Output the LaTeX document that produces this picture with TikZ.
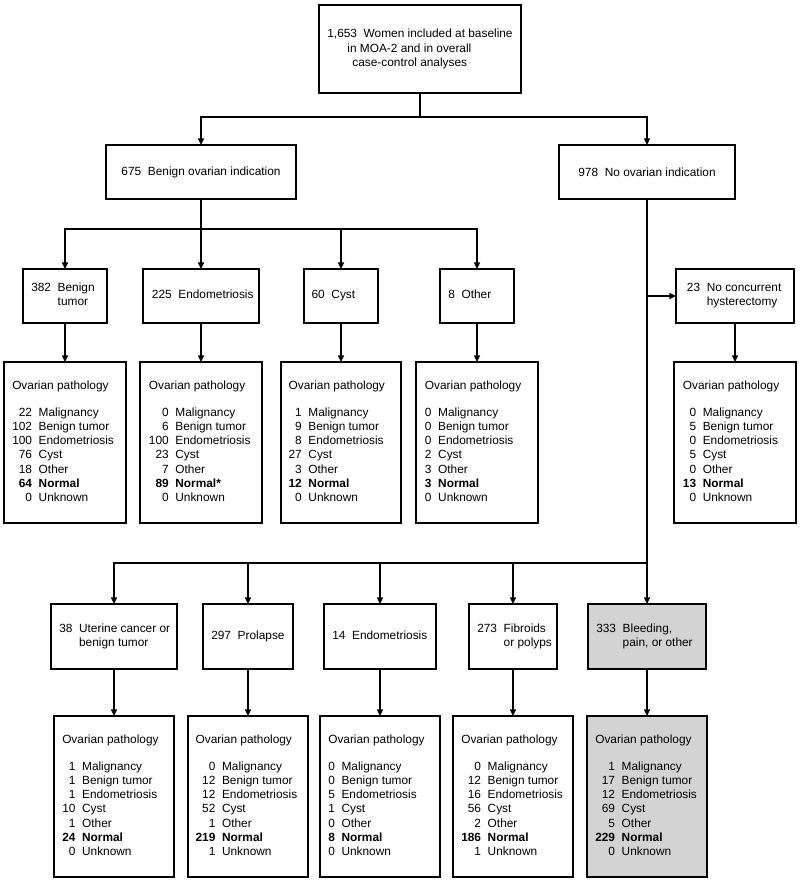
\documentclass[tikz,border=0pt]{standalone}
\usepackage{fontspec}
\setmainfont{Liberation Sans}
\usetikzlibrary{arrows.meta}
\definecolor{shade}{RGB}{211,211,211}

% optional style, name, x1, y1, x2, y2 (pixel coordinates)
\newcommand\mkbox[6][]{%
  \node[boxst,#1,minimum width={(#5-#3)*0.75pt},minimum height={(#6-#4)*0.75pt}]
    (#2) at ({(#3+#5)/2},{(#4+#6)/2}) {};}
\newcommand\lab[2]{\begin{tabular}{@{}l@{\hspace{5pt}}l@{}}#1&#2\end{tabular}}
\newcommand\pth[8]{\begin{tabular}{@{}r@{\hspace{5pt}}l@{}}
  \multicolumn{2}{@{}l@{}}{Ovarian pathology}\\[9.6pt]
  #1&Malignancy\\ #2&Benign tumor\\ #3&Endometriosis\\ #4&Cyst\\ #5&Other\\
  \textbf{#6}&\textbf{Normal#7}\\ #8&Unknown\end{tabular}}

\begin{document}
\begin{tikzpicture}[x=0.75pt,y=-0.75pt,
  ln/.style={line width=1pt},
  arr/.style={ln,-{Triangle[length=5pt,width=4.5pt]}},
  boxst/.style={draw,line width=1pt,inner sep=0pt,outer sep=0pt},
  gbox/.style={fill=shade},
  txt/.style={inner sep=0pt,font=\fontsize{8.9}{10.65}\selectfont}]
\useasboundingbox (0,0) rectangle (800,881);

% ---- boxes ----
\mkbox{top}{319}{5}{521}{93}
\mkbox{ben}{106}{145}{296}{199}
\mkbox{noov}{559}{145}{735}{199}

\mkbox{bt}{23}{269}{107}{323}
\mkbox{enA}{143}{269}{259}{323}
\mkbox{cy}{304}{269}{378}{323}
\mkbox{ot}{440}{269}{514}{323}
\mkbox{nc}{676}{269}{794}{323}

\mkbox{paA}{4}{362}{126}{523}
\mkbox{paB}{140}{362}{262}{523}
\mkbox{paC}{281}{362}{401}{523}
\mkbox{paD}{416}{362}{538}{523}
\mkbox{paE}{674}{362}{796}{523}

\mkbox{ut}{51}{604}{177}{669}
\mkbox{pr}{203}{604}{293}{669}
\mkbox{enB}{324}{604}{436}{669}
\mkbox{fi}{469}{604}{557}{669}
\mkbox[gbox]{bl}{588}{604}{706}{669}

\mkbox{pbA}{54}{716}{174}{877}
\mkbox{pbB}{188}{716}{308}{877}
\mkbox{pbC}{320}{716}{440}{877}
\mkbox{pbD}{453}{716}{573}{877}
\mkbox[gbox]{pbE}{587}{716}{707}{877}

% ---- texts ----
\node[txt,align=left] (top-t) at (top.center) {1,653\hspace{5pt}Women included at baseline\\
  \hspace*{15pt}in MOA-2 and in overall\\ \hspace*{18.75pt}case-control analyses};
\node[txt] (ben-t) at (ben.center) {675\hspace{5pt}Benign ovarian indication};
\node[txt] (noov-t) at (noov.center) {978\hspace{5pt}No ovarian indication};

\node[txt,anchor=west] (bt-t) at ([xshift=6pt]bt.west) {\lab{382}{Benign\\&tumor}};
\node[txt,anchor=west] (enA-t) at ([xshift=6.5pt]enA.west) {\lab{225}{Endometriosis}};
\node[txt,anchor=west] (cy-t) at ([xshift=5.5pt]cy.west) {\lab{60}{Cyst}};
\node[txt,anchor=west] (ot-t) at ([xshift=6pt]ot.west) {\lab{8}{Other}};
\node[txt,anchor=west] (nc-t) at ([xshift=8pt]nc.west) {\lab{23}{No concurrent\\&hysterectomy}};

\node[txt,anchor=west] (paA-t) at ([xshift=6pt]paA.west) {\pth{22}{102}{100}{76}{18}{64}{}{0}};
\node[txt,anchor=west] (paB-t) at ([xshift=6.5pt]paB.west) {\pth{0}{6}{100}{23}{7}{89}{*}{0}};
\node[txt,anchor=west] (paC-t) at ([xshift=5.5pt]paC.west) {\pth{1}{9}{8}{27}{3}{12}{}{0}};
\node[txt,anchor=west] (paD-t) at ([xshift=6.5pt]paD.west) {\pth{0}{0}{0}{2}{3}{3}{}{0}};
\node[txt,anchor=west] (paE-t) at ([xshift=6.5pt]paE.west) {\pth{0}{5}{0}{5}{0}{13}{}{0}};

\node[txt,anchor=west] (ut-t) at ([xshift=6pt]ut.west) {\lab{38}{Uterine cancer or\\&benign tumor}};
\node[txt,anchor=west] (pr-t) at ([xshift=6pt]pr.west) {\lab{297}{Prolapse}};
\node[txt,anchor=west] (enB-t) at ([xshift=6pt]enB.west) {\lab{14}{Endometriosis}};
\node[txt,anchor=west] (fi-t) at ([xshift=6pt]fi.west) {\lab{273}{Fibroids\\&or polyps}};
\node[txt,anchor=west] (bl-t) at ([xshift=6pt]bl.west) {\lab{333}{Bleeding,\\&pain, or other}};

\node[txt,anchor=west] (pbA-t) at ([xshift=6pt]pbA.west) {\pth{1}{1}{1}{10}{1}{24}{}{0}};
\node[txt,anchor=west] (pbB-t) at ([xshift=5.5pt]pbB.west) {\pth{0}{12}{12}{52}{1}{219}{}{1}};
\node[txt,anchor=west] (pbC-t) at ([xshift=6pt]pbC.west) {\pth{0}{0}{5}{1}{0}{8}{}{0}};
\node[txt,anchor=west] (pbD-t) at ([xshift=6pt]pbD.west) {\pth{0}{12}{16}{56}{2}{186}{}{1}};
\node[txt,anchor=west] (pbE-t) at ([xshift=6pt]pbE.west) {\pth{1}{17}{12}{69}{5}{229}{}{0}};

% ---- connectors ----
\coordinate (j0) at (420,117);
\draw[ln] (top.south) -- (j0);
\draw[arr] (j0) -| (ben.north);
\draw[arr] (j0) -| (noov.north);

\coordinate (j1) at (201,229);
\draw[arr] (ben.south) -- (enA.north);
\draw[arr] (j1) -| (bt.north);
\draw[arr] (j1) -| (cy.north);
\draw[arr] (j1) -| (ot.north);

\draw[arr] (bt.south) -- (bt.south |- paA.north);
\draw[arr] (enA.south) -- (enA.south |- paB.north);
\draw[arr] (cy.south) -- (cy.south |- paC.north);
\draw[arr] (ot.south) -- (ot.south |- paD.north);
\draw[arr] (nc.south) -- (nc.south |- paE.north);

\coordinate (j2) at (noov.south |- nc.west);
\coordinate (j3) at (647,563);
\draw[arr] (noov.south) -- (bl.north);
\draw[arr] (j2) -- (nc.west);
\draw[arr] (j3) -| (ut.north);
\draw[arr] (j3) -| (pr.north);
\draw[arr] (j3) -| (enB.north);
\draw[arr] (j3) -| (fi.north);

\draw[arr] (ut.south) -- (ut.south |- pbA.north);
\draw[arr] (pr.south) -- (pr.south |- pbB.north);
\draw[arr] (enB.south) -- (enB.south |- pbC.north);
\draw[arr] (fi.south) -- (fi.south |- pbD.north);
\draw[arr] (bl.south) -- (bl.south |- pbE.north);
\end{tikzpicture}
\end{document}
